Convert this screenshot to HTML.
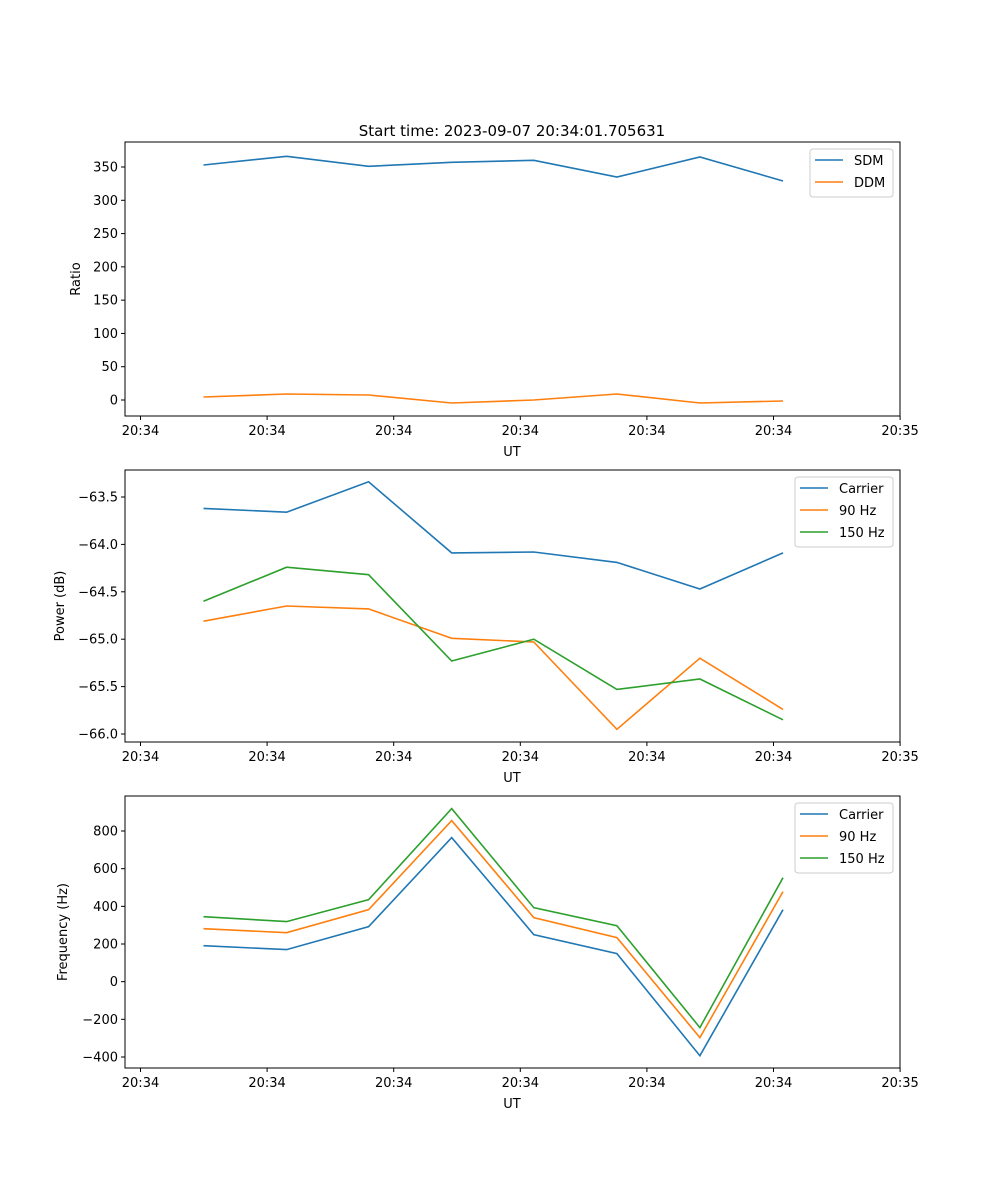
<!DOCTYPE html>
<html><head><meta charset="utf-8"><style>
body{margin:0;background:#fff}
svg{display:block;font-family:"DejaVu Sans","Liberation Sans",sans-serif}
</style></head><body>
<svg id="fig" width="1000" height="1200" viewBox="0 0 1000 1200" xmlns="http://www.w3.org/2000/svg">
<rect width="1000" height="1200" fill="#fff"/>
<text x="512" y="136" font-size="15" text-anchor="middle">Start time: 2023-09-07 20:34:01.705631</text>
</svg>
<script>
// shared x positions (in tick units: 0 = first 20:34 tick, 6 = 20:35)
const times = [0.498, 1.154, 1.802, 2.458, 3.107, 3.763, 4.419, 5.075];
const xTickVals = [0, 1, 2, 3, 4, 5, 6];
const xTickLabels = ["20:34","20:34","20:34","20:34","20:34","20:34","20:35"];
// panel 1
const sdm = [353, 366, 351, 357, 360, 335, 365, 329];
const ddm = [4.5, 9, 7.5, -4.5, 0, 9, -4.5, -1.5];
const ratioTicks = [0, 50, 100, 150, 200, 250, 300, 350];
// panel 2
const powCarrier = [-63.62, -63.66, -63.34, -64.09, -64.08, -64.19, -64.47, -64.09];
const pow90 = [-64.81, -64.65, -64.68, -64.99, -65.03, -65.95, -65.20, -65.74];
const pow150 = [-64.60, -64.24, -64.32, -65.23, -65.00, -65.53, -65.42, -65.85];
const powTicks = [-66.0, -65.5, -65.0, -64.5, -64.0, -63.5];
// panel 3
const frqCarrier = [191, 170, 292, 765, 250, 149, -393, 382];
const frq90 = [281, 260, 382, 855, 340, 234, -297, 478];
const frq150 = [345, 319, 435, 919, 393, 297, -244, 552];
const frqTicks = [-400, -200, 0, 200, 400, 600, 800];

const NS = "http://www.w3.org/2000/svg";
const svg = document.getElementById('fig');
const C = ['#1f77b4', '#ff7f0e', '#2ca02c'];
function mk(tag, attrs, parent) {
  const e = document.createElementNS(NS, tag);
  for (const k in attrs) e.setAttribute(k, attrs[k]);
  (parent || svg).appendChild(e);
  return e;
}
const L = 125, R = 900;
const xs = v => 140.5 + v * 126.6;

function panel(cfg) {
  const g = mk('g', {});
  
  
  const ys = v => cfg.y0 + (v - cfg.v0) * (cfg.y1 - cfg.y0) / (cfg.v1 - cfg.v0);
  cfg.series.forEach((s, i) => {
    const pts = s.vals.map((v, j) => xs(times[j]).toFixed(1) + ',' + ys(v).toFixed(1)).join(' ');
    const pl = mk('polyline', { points: pts, fill: 'none', stroke: C[i], 'stroke-width': 1.6 }, g);
    
    
  });
  const fr = mk('rect', { x: L, y: cfg.top, width: R - L, height: cfg.bot - cfg.top, fill: 'none', stroke: '#000', 'stroke-width': 1 }, g);
  
  
  xTickVals.forEach((v, i) => {
    const x = xs(v);
    mk('line', { x1: x, x2: x, y1: cfg.bot, y2: cfg.bot + 4, stroke: '#000' }, g);
    const t = mk('text', { x: x, y: cfg.bot + 19, 'font-size': 13, 'text-anchor': 'middle' }, g);
    t.textContent = xTickLabels[i];
    
    
  });
  const xl = mk('text', { x: 512, y: cfg.bot + 40, 'font-size': 13, 'text-anchor': 'middle' }, g);
  xl.textContent = 'UT';
  
  
  cfg.ticks.forEach(v => {
    const y = ys(v);
    mk('line', { x1: L - 4, x2: L, y1: y, y2: y, stroke: '#000' }, g);
    const t = mk('text', { x: L - 7, y: y + 4.5, 'font-size': 13, 'text-anchor': 'end' }, g);
    t.textContent = cfg.fmt(v);
    
    
  });
  const cy = (cfg.top + cfg.bot) / 2;
  const yl = mk('text', { x: cfg.ylx, y: cy, 'font-size': 13, 'text-anchor': 'middle', transform: `rotate(-90 ${cfg.ylx} ${cy})` }, g);
  yl.textContent = cfg.ylabel;
  
  
  // legend
  const lg = mk('g', {}, g);
  
  
  const n = cfg.series.length;
  mk('rect', { x: cfg.lgx, y: cfg.top + 7, width: R - 7 - cfg.lgx, height: 22 * n + 4, rx: 3, fill: '#fff', stroke: '#ccc', 'fill-opacity': 0.8 }, lg);
  cfg.series.forEach((s, i) => {
    const y = cfg.top + 18 + 22 * i;
    mk('line', { x1: cfg.lgx + 5, x2: cfg.lgx + 33, y1: y, y2: y, stroke: C[i], 'stroke-width': 1.6 }, lg);
    const t = mk('text', { x: cfg.lgx + 44, y: y + 5, 'font-size': 13 }, lg);
    t.textContent = s.label;
    
    
  });
}

panel({ name: 'ratio-panel', top: 142, bot: 416, v0: 0, y0: 400, v1: 350, y1: 167, ticks: ratioTicks, fmt: v => String(v), ylabel: 'Ratio', ylx: 80, lgx: 810,
  series: [{ key: 'sdm', label: 'SDM', vals: sdm }, { key: 'ddm', label: 'DDM', vals: ddm }] });
panel({ name: 'power-panel', top: 470, bot: 742, v0: -63.5, y0: 497, v1: -66.0, y1: 734, ticks: powTicks, fmt: v => v.toFixed(1).replace('-', '\u2212'), ylabel: 'Power (dB)', ylx: 64, lgx: 795,
  series: [{ key: 'power-carrier', label: 'Carrier', vals: powCarrier }, { key: 'power-90hz', label: '90 Hz', vals: pow90 }, { key: 'power-150hz', label: '150 Hz', vals: pow150 }] });
panel({ name: 'frequency-panel', top: 796, bot: 1068, v0: 800, y0: 831, v1: -400, y1: 1057, ticks: frqTicks, fmt: v => String(v).replace('-', '\u2212'), ylabel: 'Frequency (Hz)', ylx: 67, lgx: 795,
  series: [{ key: 'freq-carrier', label: 'Carrier', vals: frqCarrier }, { key: 'freq-90hz', label: '90 Hz', vals: frq90 }, { key: 'freq-150hz', label: '150 Hz', vals: frq150 }] });
</script>
</body></html>
